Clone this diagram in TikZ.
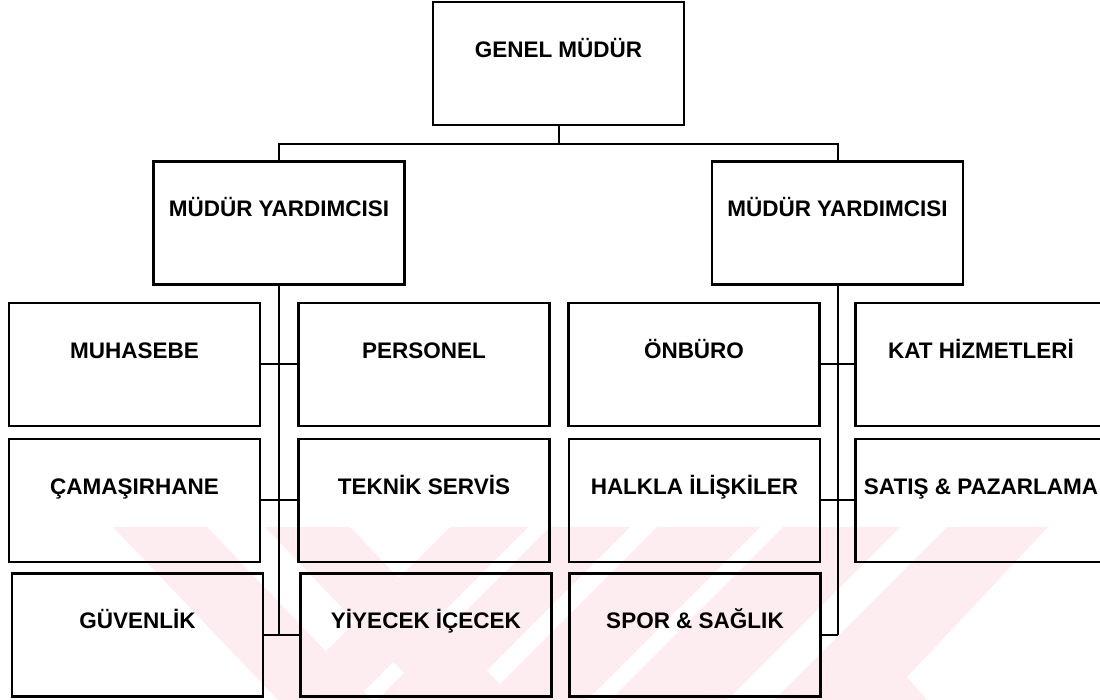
\documentclass[tikz,border=0pt]{standalone}
\usepackage{fontspec}
\setmainfont{Liberation Sans}
\definecolor{watermark}{RGB}{253,237,240}
\tikzstyle{unitbox}=[
      rectangle,
      draw=black,
      line width=1.2pt,
      minimum width=125.5pt,
      minimum height=61.5pt,
      inner xsep=2pt,
      inner ysep=0pt,
      text height=8pt,
      text depth=14pt,
      font=\fontsize{11.25pt}{13pt}\selectfont\bfseries
      ]
\tikzstyle{link}=[line width=1pt]

\begin{document}
\begin{tikzpicture}[x=0.5pt,y=-0.5pt]
\useasboundingbox (0,0) rectangle (1100,700);
% faint watermark behind the chart
\fill [watermark] (113,527) -- (207,527) -- (372,700) -- (278,700) -- cycle;
\fill [watermark] (265,527) -- (350,527) -- (515,700) -- (430,700) -- cycle;
\fill [watermark] (450,527) -- (528,527) -- (355,700) -- (277,700) -- cycle;
\fill [watermark] (550,527) -- (630,527) -- (457,700) -- (377,700) -- cycle;
\fill [watermark] (657,527) -- (760,527) -- (587,700) -- (484,700) -- cycle;
\fill [watermark] (783,527) -- (900,527) -- (727,700) -- (610,700) -- cycle;
\fill [watermark] (947,527) -- (1048,527) -- (907,677) -- (927,700) -- (774,700) -- cycle;

\node [unitbox] (genel) at (558.5,63.5) {GENEL MÜDÜR};
\node [unitbox] (yardA) at (279,223) {MÜDÜR YARDIMCISI};
\node [unitbox] (yardB) at (837.5,223) {MÜDÜR YARDIMCISI};

\node [unitbox] (muhasebe) at (134.5,364.5) {MUHASEBE};
\node [unitbox] (personel) at (424,364.5) {PERSONEL};
\node [unitbox] (camasir) at (134.5,500.5) {ÇAMAŞIRHANE};
\node [unitbox] (teknik) at (424,500.5) {TEKNİK SERVİS};
\node [unitbox] (guvenlik) at (137.5,635) {GÜVENLİK};
\node [unitbox] (yiyecek) at (426,635) {YİYECEK İÇECEK};

\node [unitbox] (onburo) at (694,364.5) {ÖNBÜRO};
\node [unitbox] (kat) at (981,364.5) {KAT HİZMETLERİ};
\node [unitbox] (halkla) at (694.5,500.5) {HALKLA İLİŞKİLER};
\node [unitbox] (satis) at (981,500.5) {SATIŞ \& PAZARLAMA};
\node [unitbox] (spor) at (695,635) {SPOR \& SAĞLIK};

\draw [link] (genel.south) -- ++(0,18) coordinate (bus);
\draw [link] (yardA.north) |- (bus) -| (yardB.north);

\draw [link] (yardA.south) -- (yardA.south |- guvenlik.east);
\draw [link] (muhasebe.east) -- (personel.west);
\draw [link] (camasir.east) -- (teknik.west);
\draw [link] (guvenlik.east) -- (yiyecek.west);

\draw [link] (yardB.south) -- (yardB.south |- spor.east);
\draw [link] (onburo.east) -- (kat.west);
\draw [link] (halkla.east) -- (satis.west);
\draw [link] (spor.east) -- (spor.east -| yardB.south);
\end{tikzpicture}
\end{document}
